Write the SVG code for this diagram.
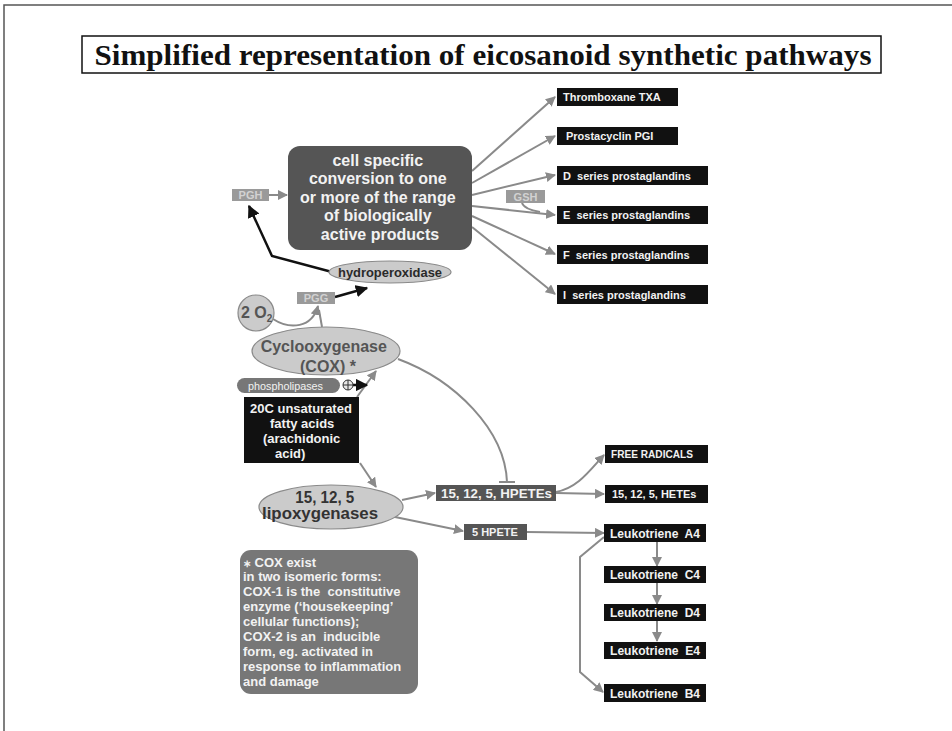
<svg xmlns="http://www.w3.org/2000/svg" width="952" height="731" viewBox="0 0 952 731">
<defs>
<style>
.sans{font-family:"Liberation Sans",Arial,sans-serif}
.blk{fill:#111}
.dk{fill:#555}
.gbox{fill:#9a9a9a}
.ell{fill:#cbcbcb;stroke:#8a8a8a;stroke-width:1.2}
.wt{fill:#f2f2f2;font-family:"Liberation Sans",Arial,sans-serif}
.lbl{font-size:11px;font-weight:bold}
.gt{fill:#d2d2d2;font-family:"Liberation Sans",Arial,sans-serif;font-size:11px;font-weight:bold}
.con{fill:none;stroke:#8a8a8a;stroke-width:2}
.bcon{fill:none;stroke:#111;stroke-width:2.5}
</style>
<marker id="ag" viewBox="0 0 10 10" refX="9" refY="5" markerWidth="5" markerHeight="5" orient="auto">
<path d="M0,0 L10,5 L0,10 Z" fill="#8a8a8a"/>
</marker>
<marker id="ab" viewBox="0 0 10 10" refX="9" refY="5" markerWidth="5" markerHeight="5" orient="auto">
<path d="M0,0 L10,5 L0,10 Z" fill="#111"/>
</marker>
</defs>
<rect width="952" height="731" fill="#fff"/>
<path d="M952,5 L4,5 L4,731" fill="none" stroke="#555" stroke-width="1.5"/>
<g id="title">
<rect x="82" y="36" width="799" height="37" fill="#fff" stroke="#111" stroke-width="1.5"/>
<text x="483" y="64.5" text-anchor="middle" font-family="Liberation Serif,'Times New Roman',serif" font-weight="bold" font-size="30" textLength="777" lengthAdjust="spacingAndGlyphs" fill="#111">Simplified representation of eicosanoid synthetic pathways</text>
</g>

<g id="connectors">
<path class="con" d="M472,171 L555,97" marker-end="url(#ag)"/>
<path class="con" d="M472,183 L555,136" marker-end="url(#ag)"/>
<path class="con" d="M472,195 L555,175" marker-end="url(#ag)"/>
<path class="con" d="M472,206 L555,215" marker-end="url(#ag)"/>
<path class="con" d="M472,216 L555,254" marker-end="url(#ag)"/>
<path class="con" d="M472,227 L555,294" marker-end="url(#ag)"/>
<path class="con" d="M522,203 Q524,209 540,212" stroke-width="1.5"/>
<path class="con" d="M269,195 L287,195" marker-end="url(#ag)"/>
<path class="bcon" d="M332,272 L272,256 L249,206" marker-end="url(#ab)"/>
<path class="bcon" d="M335,297 L367,288" marker-end="url(#ab)"/>
<path class="con" d="M273,319 C290,330 312,328 318,306" marker-end="url(#ag)"/>
<path class="con" d="M322,327 L319,310"/>
<path class="con" d="M357,397 L376,371" marker-end="url(#ag)"/>
<path class="bcon" d="M353,385 L367,385" stroke-width="1.5" marker-end="url(#ab)"/>
<path class="con" d="M360,463 L376,487" marker-end="url(#ag)"/>
<path class="con" d="M398,359 C455,380 505,430 507,482"/>
<path class="con" d="M499,482 L515,482"/>
<path class="con" d="M402,500 L435,493" marker-end="url(#ag)"/>
<path class="con" d="M395,517 L463,531" marker-end="url(#ag)"/>
<path class="con" d="M556,492 C578,488 590,470 604,455" marker-end="url(#ag)"/>
<path class="con" d="M556,493 L604,494" marker-end="url(#ag)"/>
<path class="con" d="M527,532 L604,533" marker-end="url(#ag)"/>
<path class="con" d="M657,542 L657,566" marker-end="url(#ag)"/>
<path class="con" d="M657,582 L657,604" marker-end="url(#ag)"/>
<path class="con" d="M657,620 L657,641" marker-end="url(#ag)"/>
<path class="con" d="M604,537 L580,557 L580,672 L603,692" marker-end="url(#ag)"/>
</g>

<g id="cell-specific">
<rect x="288" y="146" width="184" height="104" rx="12" class="dk"/>
<text class="wt" font-size="16" font-weight="bold" text-anchor="middle">
<tspan x="380" y="166">cell specific</tspan>
<tspan x="380" y="184">conversion to one</tspan>
<tspan x="380" y="203">or more of the range</tspan>
<tspan x="380" y="221">of biologically</tspan>
<tspan x="380" y="240">active products</tspan>
</text>
</g>

<g id="pgh"><rect x="232" y="189" width="37" height="12" class="gbox"/><text class="gt" x="250.5" y="199" text-anchor="middle">PGH</text></g>
<g id="gsh"><rect x="506" y="190" width="39" height="13" class="gbox"/><text class="gt" x="525.5" y="200.5" text-anchor="middle">GSH</text></g>
<g id="pgg"><rect x="297" y="292" width="38" height="12" class="gbox"/><text class="gt" x="316" y="302" text-anchor="middle">PGG</text></g>

<g id="txa"><rect x="557" y="88" width="121" height="18" class="blk"/><text class="wt lbl" x="563" y="101">Thromboxane TXA</text></g>
<g id="pgi"><rect x="557" y="127" width="121" height="18" class="blk"/><text class="wt lbl" x="566" y="140">Prostacyclin PGI</text></g>
<g id="dseries"><rect x="557" y="166" width="151" height="19" class="blk"/><text class="wt lbl" x="563" y="179.5" xml:space="preserve">D  series prostaglandins</text></g>
<g id="eseries"><rect x="557" y="206" width="151" height="18" class="blk"/><text class="wt lbl" x="563" y="219" xml:space="preserve">E  series prostaglandins</text></g>
<g id="fseries"><rect x="557" y="245" width="151" height="19" class="blk"/><text class="wt lbl" x="563" y="258.5" xml:space="preserve">F  series prostaglandins</text></g>
<g id="iseries"><rect x="557" y="285" width="151" height="19" class="blk"/><text class="wt lbl" x="563" y="298.5" xml:space="preserve">I  series prostaglandins</text></g>

<g id="hydroperoxidase">
<ellipse cx="390" cy="272" rx="61" ry="11" class="ell"/>
<text class="sans" x="390" y="276.5" text-anchor="middle" font-size="13" font-weight="bold" fill="#2a2a2a" textLength="104" lengthAdjust="spacingAndGlyphs">hydroperoxidase</text>
</g>

<g id="o2">
<circle cx="256" cy="313" r="18" class="ell"/>
<text class="sans" x="241" y="318" font-size="16" font-weight="bold" fill="#555">2 O<tspan font-size="10" dy="4">2</tspan></text>
</g>

<g id="cox">
<ellipse cx="326" cy="351" rx="74" ry="24" class="ell"/>
<text class="sans" font-size="16" font-weight="bold" fill="#555" text-anchor="middle">
<tspan x="326" y="352">Cyclooxygenase</tspan>
<tspan x="328" y="372">(COX) *</tspan>
</text>
</g>

<g id="phospholipases">
<rect x="237" y="378" width="103" height="15" rx="7.5" fill="#777"/>
<text class="wt" x="248" y="389.5" font-size="11" textLength="75" lengthAdjust="spacingAndGlyphs">phospholipases</text>
<circle cx="348" cy="385" r="5" fill="#e8e8e8" stroke="#333" stroke-width="1"/>
<path d="M343,385 H353 M348,380 V390" stroke="#333" stroke-width="1"/>
</g>

<g id="arachidonic">
<rect x="244" y="397" width="115" height="66" class="blk"/>
<text class="wt" font-size="13" font-weight="bold">
<tspan x="250" y="413">20C unsaturated</tspan>
<tspan x="270" y="428">fatty acids</tspan>
<tspan x="263" y="443">(arachidonic</tspan>
<tspan x="275" y="458">acid)</tspan>
</text>
</g>

<g id="lipoxygenases">
<ellipse cx="331" cy="507" rx="72" ry="22" class="ell"/>
<text class="sans" font-size="16" font-weight="bold" fill="#333" text-anchor="middle">
<tspan x="327" y="503" textLength="59" lengthAdjust="spacingAndGlyphs">15, 12, 5</tspan>
<tspan x="320" y="519" textLength="116" lengthAdjust="spacingAndGlyphs">lipoxygenases</tspan>
</text>
</g>

<g id="hpetes"><rect x="436" y="485" width="120" height="16" class="dk"/><text class="wt" x="441" y="497.5" font-size="13" font-weight="bold" textLength="111" lengthAdjust="spacingAndGlyphs">15, 12, 5, HPETEs</text></g>
<g id="hpete5"><rect x="464" y="524" width="63" height="16" class="dk"/><text class="wt lbl" x="472" y="536">5 HPETE</text></g>

<g id="freeradicals"><rect x="605" y="445" width="103" height="18" class="blk"/><text class="wt lbl" x="611" y="458" textLength="82" lengthAdjust="spacingAndGlyphs">FREE RADICALS</text></g>
<g id="hetes"><rect x="605" y="485" width="103" height="18" class="blk"/><text class="wt lbl" x="612" y="498">15, 12, 5, HETEs</text></g>

<g id="lta4"><rect x="604" y="524" width="102" height="18" class="blk"/><text class="wt" x="610" y="537.5" font-size="12" font-weight="bold" textLength="90" lengthAdjust="spacingAndGlyphs" xml:space="preserve">Leukotriene  A4</text></g>
<g id="ltc4"><rect x="604" y="566" width="102" height="17" class="blk"/><text class="wt" x="610" y="579" font-size="12" font-weight="bold" textLength="90" lengthAdjust="spacingAndGlyphs" xml:space="preserve">Leukotriene  C4</text></g>
<g id="ltd4"><rect x="604" y="604" width="102" height="17" class="blk"/><text class="wt" x="610" y="617" font-size="12" font-weight="bold" textLength="90" lengthAdjust="spacingAndGlyphs" xml:space="preserve">Leukotriene  D4</text></g>
<g id="lte4"><rect x="604" y="642" width="102" height="17" class="blk"/><text class="wt" x="610" y="655" font-size="12" font-weight="bold" textLength="90" lengthAdjust="spacingAndGlyphs" xml:space="preserve">Leukotriene  E4</text></g>
<g id="ltb4"><rect x="604" y="684" width="102" height="18" class="blk"/><text class="wt" x="610" y="697.5" font-size="12" font-weight="bold" textLength="90" lengthAdjust="spacingAndGlyphs" xml:space="preserve">Leukotriene  B4</text></g>

<g id="cox-note">
<rect x="240" y="550" width="178" height="144" rx="11" fill="#777"/>
<text class="wt" font-size="13" font-weight="bold" xml:space="preserve">
<tspan x="243" y="567"><tspan font-size="10">∗</tspan> COX exist</tspan>
<tspan x="243" y="581">in two isomeric forms:</tspan>
<tspan x="243" y="596">COX-1 is the  constitutive</tspan>
<tspan x="243" y="611">enzyme (‘housekeeping’</tspan>
<tspan x="243" y="626">cellular functions);</tspan>
<tspan x="243" y="641">COX-2 is an  inducible</tspan>
<tspan x="243" y="656">form, eg. activated in</tspan>
<tspan x="243" y="671">response to inflammation</tspan>
<tspan x="243" y="686">and damage</tspan>
</text>
</g>
</svg>
